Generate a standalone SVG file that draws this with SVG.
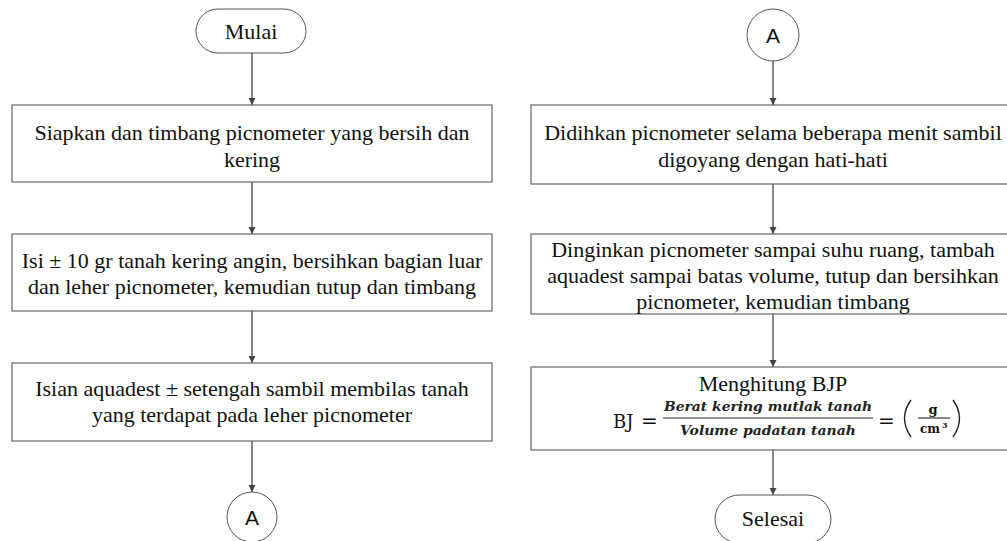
<svg xmlns="http://www.w3.org/2000/svg" width="1007" height="541" viewBox="0 0 1007 541">
  <style>
    .box { fill: #ffffff; stroke: #666666; stroke-width: 1.2; }
    .term { fill: #ffffff; stroke: #555555; stroke-width: 1; }
    .lbl { font-family: "Liberation Serif", "Times New Roman", serif; font-size: 22px; fill: #111111; text-anchor: middle; }
    .conn { font-family: "Liberation Sans", Arial, sans-serif; font-size: 21px; fill: #111111; text-anchor: middle; }
    .math { font-family: "DejaVu Serif", "Liberation Serif", serif; fill: #111111; }
    .frac { font-family: "DejaVu Serif", serif; font-style: italic; font-weight: bold; font-size: 13px; fill: #222222; text-anchor: middle; }
    .edge { stroke: #444444; stroke-width: 1.3; fill: none; marker-end: url(#arrow); }
  </style>
  <defs>
    <marker id="arrow" viewBox="0 0 10 10" refX="10" refY="5" markerWidth="7" markerHeight="8" markerUnits="userSpaceOnUse" orient="auto">
      <path d="M0,0 L10,5 L0,10 Z" fill="#444444"/>
    </marker>
  </defs>
  <rect width="1007" height="541" fill="#ffffff"/>

  <!-- connectors -->
  <g id="connectors">
    <line class="edge" x1="252" y1="53" x2="252" y2="105"/>
    <line class="edge" x1="252" y1="182" x2="252" y2="234"/>
    <line class="edge" x1="252" y1="311" x2="252" y2="363"/>
    <line class="edge" x1="252" y1="441" x2="252" y2="492"/>
    <line class="edge" x1="773" y1="61" x2="773" y2="105"/>
    <line class="edge" x1="773" y1="184" x2="773" y2="234"/>
    <line class="edge" x1="773" y1="314" x2="773" y2="367"/>
    <line class="edge" x1="773" y1="450" x2="773" y2="495"/>
  </g>

  <!-- left column -->
  <g id="mulai">
    <rect class="term" x="196" y="9" width="110" height="44" rx="22" ry="22"/>
    <text class="lbl" x="251" y="39">Mulai</text>
  </g>
  <g id="siapkan">
    <rect class="box" x="12" y="105" width="480" height="77"/>
    <text class="lbl" x="252" y="140">Siapkan dan timbang picnometer yang bersih dan</text>
    <text class="lbl" x="252" y="167">kering</text>
  </g>
  <g id="isi-tanah">
    <rect class="box" x="12" y="234" width="480" height="77"/>
    <text class="lbl" x="252" y="268">Isi ± 10 gr tanah kering angin, bersihkan bagian luar</text>
    <text class="lbl" x="252" y="294">dan leher picnometer, kemudian tutup dan timbang</text>
  </g>
  <g id="isian-aquadest">
    <rect class="box" x="12" y="363" width="480" height="78"/>
    <text class="lbl" x="252" y="396">Isian aquadest ± setengah sambil membilas tanah</text>
    <text class="lbl" x="252" y="422">yang terdapat pada leher picnometer</text>
  </g>
  <g id="conn-a-out">
    <circle cx="252" cy="517" r="25" fill="#ffffff" stroke="#555555" stroke-width="1"/>
    <text class="conn" x="252" y="525">A</text>
  </g>

  <!-- right column -->
  <g id="conn-a-in">
    <circle cx="773" cy="35" r="26" fill="#ffffff" stroke="#555555" stroke-width="1"/>
    <text class="conn" x="773" y="43">A</text>
  </g>
  <g id="didihkan">
    <rect class="box" x="531" y="105" width="484" height="79"/>
    <text class="lbl" x="773" y="140">Didihkan picnometer selama beberapa menit sambil</text>
    <text class="lbl" x="773" y="167">digoyang dengan hati-hati</text>
  </g>
  <g id="dinginkan">
    <rect class="box" x="531" y="234" width="484" height="80"/>
    <text class="lbl" x="773" y="257">Dinginkan picnometer sampai suhu ruang, tambah</text>
    <text class="lbl" x="773" y="283">aquadest sampai batas volume, tutup dan bersihkan</text>
    <text class="lbl" x="773" y="309">picnometer, kemudian timbang</text>
  </g>
  <g id="menghitung">
    <rect class="box" x="531" y="367" width="484" height="83"/>
    <text class="lbl" x="773" y="391">Menghitung BJP</text>
    <text class="math" x="613" y="428" font-size="18">BJ</text>
    <text class="math" x="641" y="428" font-size="20">=</text>
    <text class="frac" x="768" y="411" textLength="208" lengthAdjust="spacingAndGlyphs">Berat kering mutlak tanah</text>
    <line x1="663" y1="418" x2="873" y2="418" stroke="#222222" stroke-width="1.1"/>
    <text class="frac" x="768" y="435" textLength="176" lengthAdjust="spacingAndGlyphs">Volume padatan tanah</text>
    <text class="math" x="878" y="428" font-size="20">=</text>
    <path d="M911,400 Q898,418 911,437" fill="none" stroke="#222222" stroke-width="1.4"/>
    <text class="math" x="933" y="414" font-size="13" font-weight="bold" text-anchor="middle">g</text>
    <line x1="918" y1="418" x2="950" y2="418" stroke="#222222" stroke-width="1.1"/>
    <text class="math" x="930" y="433" font-size="12" font-weight="bold" text-anchor="middle">cm</text>
    <text class="math" x="942" y="428" font-size="8" font-weight="bold">3</text>
    <path d="M953,400 Q966,418 953,437" fill="none" stroke="#222222" stroke-width="1.4"/>
  </g>
  <g id="selesai">
    <rect class="term" x="715" y="495" width="116" height="48" rx="24" ry="24"/>
    <text class="lbl" x="773" y="526">Selesai</text>
  </g>
</svg>
